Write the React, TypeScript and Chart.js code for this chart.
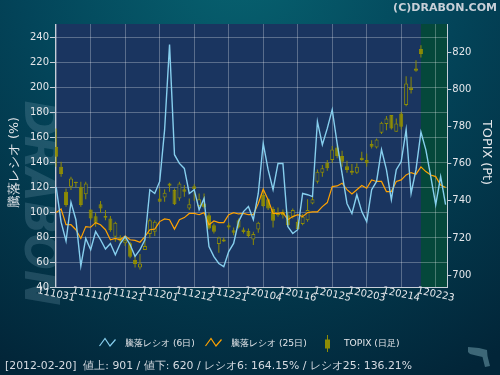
import React, { useEffect, useRef } from "react";
import { Chart, registerables } from "chart.js";
Chart.register(...registerables);

// ---- data ----
const xTickLabels = ["111031", "111110", "111121", "111201", "111212", "111221", "120104", "120116", "120125", "120203", "120214", "120223"];
const xTickStep = 7;
const leftTicks = [40, 60, 80, 100, 120, 140, 160, 180, 200, 220, 240];
const rightTicks = [700, 720, 740, 760, 780, 800, 820];
const cursorIndex = 74;

const ratio6 = [
  120, 92, 77, 108, 94, 57, 79, 70, 84.5, 78,
  70.6, 75, 66, 75, 80.5, 74, 64.7, 70, 78, 118,
  115, 124.6, 166, 234, 146, 139, 135, 115, 118, 102,
  111, 72.5, 64.5, 59, 56.5, 68.5, 75, 92.5, 100.5, 104.5,
  94, 115, 155, 134, 118, 139, 139, 88.5, 83, 86,
  115, 114, 112.5, 172.5, 154, 167, 182, 155, 131, 107,
  99, 114, 100.5, 92.5, 118, 124.6, 150, 134, 110, 134,
  140.5, 166, 115, 134, 164.15, 149.8, 128.5, 106, 128.5, 106,
];
const ratio25 = [
  99.7, 102.6, 90, 90, 86, 79, 88.5, 88, 91.7, 90,
  86, 78, 79, 78, 81, 78, 77.5, 76, 80.5, 86,
  86.5, 92.5, 94.6, 94, 86.5, 94, 95.7, 99, 99, 98,
  99.7, 90, 93, 91.7, 91.7, 98, 99.7, 98.6, 99, 98,
  98, 107, 118.4, 110, 99, 99, 99.7, 94, 96.5, 98,
  96.5, 99.7, 100.3, 100.3, 104.5, 107.7, 120.5, 121, 123.2, 118,
  114.6, 118, 121.3, 119.2, 125.8, 124.6, 124.6, 116.5, 116.5, 124.6,
  125.8, 129.8, 131.7, 130.4, 136.21, 132.5, 129.8, 128.5, 121.8, 119.7,
];
const topixOpen = [
  769.1, 758.4, 744.9, 747.6, 750.3, 747.6, 743.6, 735.4, 731.7, 738.2,
  731.8, 730.5, 720.6, 720.3, 717.1, 717.1, 708.1, 704.1, 713.5, 722.1,
  723.3, 741.3, 741.8, 749.4, 745.8, 741.3, 746.2, 735.9, 747.9, 737.2,
  738.6, 732.3, 726.9, 716.7, 719.2, 726.9, 724.2, 729.6, 724.6, 723.7,
  719.2, 724.6, 743.1, 740.8, 735.6, 733.2, 734.1, 732.3, 731.4, 728.7,
  727.5, 729.6, 738.6, 750.3, 755.1, 760.5, 762, 768.8, 764.1, 758.7,
  756.2, 755.1, 763.2, 762, 770.6, 768.8, 776.7, 781.4, 786.2, 777.2,
  787.1, 791.6, 801.1, 811.3, 821.8,
];
const topixHigh = [
  779, 761.1, 746.6, 753, 750.3, 750.3, 750.3, 735.4, 733.6, 739.9,
  735, 731.8, 728.7, 721.5, 720.6, 717.9, 710.8, 711.3, 719.8, 730.5,
  729.6, 746.7, 746.2, 749.7, 746.7, 750.3, 748.5, 741.3, 749, 744,
  744, 733.6, 727.8, 720.6, 720.3, 728.2, 725.7, 730.5, 725.7, 725.1,
  723.3, 728.7, 745.8, 741.3, 736.8, 736.4, 735.4, 734.1, 735.9, 730,
  732.9, 740.8, 743.6, 756.9, 759.3, 762, 769.5, 770, 767, 761.6,
  759.8, 760.2, 766.4, 765.5, 772.7, 773.6, 782.6, 785.7, 786.2, 784.4,
  788, 807.2, 806.9, 815.8, 823.9,
];
const topixLow = [
  758.4, 753, 736.8, 745.8, 747, 736.8, 740.8, 729.6, 726, 733.6,
  729.6, 723.3, 718, 717.4, 715.6, 709, 704.1, 703, 713.5, 719.8,
  721, 739.5, 739.5, 744.9, 737.7, 740, 742.2, 735, 740, 736.5,
  735.9, 724.6, 722.4, 712, 717.8, 724.6, 721.5, 725.1, 722.4, 720.3,
  716.2, 722.8, 736.5, 735, 725.7, 731.4, 730.5, 726, 730.5, 724.6,
  726.9, 728.7, 738.2, 749.4, 753, 756.2, 760.5, 762.9, 758.4, 755.1,
  753.9, 754.4, 761.6, 758.4, 768.2, 768.2, 776, 778.1, 778.5, 777.2,
  778.5, 791, 797.9, 809.6, 817.3,
];
const topixClose = [
  763.8, 754.4, 737.7, 752.1, 749.6, 737.7, 749.4, 730.5, 728.2, 735.9,
  730.9, 724.2, 728.2, 718.5, 718.8, 709.9, 705.9, 706.3, 715.6, 729.6,
  728.7, 739.5, 744.4, 748.1, 738.1, 749.4, 744.9, 738.2, 746.2, 740.8,
  736.5, 725.1, 723.3, 720.3, 718.1, 725.7, 722.8, 725.7, 723.2, 721,
  722.1, 728.2, 737.2, 735.9, 729.3, 732.3, 732.3, 726.9, 735, 724.8,
  731.4, 735, 740.8, 755.7, 757.5, 757.5, 767.7, 764.1, 761.1, 756.6,
  755.1, 758.4, 762, 760.2, 769.1, 773.1, 782.1, 784.4, 779, 781.7,
  779.9, 803.3, 799.7, 810.1, 819.1,
];

const legendLabels = ["騰落レシオ (6日)", "騰落レシオ (25日)", "TOPIX (日足)"];
const infoText = "[2012-02-20]  値上: 901 / 値下: 620 / レシオ6: 164.15% / レシオ25: 136.21%";
const leftTitle = "騰落レシオ (%)";
const rightTitle = "TOPIX (Pt)";
const copyright = "(C)DRABON.COM";
const watermark = "DRABON";

// ---- styles ----
const FONT = '"DejaVu Sans", sans-serif';
const PLOT_BG = "#1a3560";
const GREEN_BG = "#05483b";
const BLUE = "#87cfee";
const ORANGE = "#ffa200";
const OLIVE = "#8e8c05";
const TEXT = "#e4e6ea";
const GRID = "rgba(255,255,255,0.28)";
const AXIS = "#c6ced8";

function setFitFont(ctx: CanvasRenderingContext2D, text: string, style: string, target: number) {
  ctx.font = `${style} 20px ${FONT}`;
  const w = ctx.measureText(text).width;
  const s = (20 * target) / w;
  ctx.font = `${style} ${s}px ${FONT}`;
}

const decor = {
  id: "decor",
  beforeDraw(chart: any) {
    const { ctx, chartArea: a, scales } = chart;
    ctx.save();
    const g = ctx.createRadialGradient(240, -40, 10, 240, -40, 470);
    g.addColorStop(0, "#07616f");
    g.addColorStop(0.45, "#03455a");
    g.addColorStop(1, "#022538");
    ctx.fillStyle = g;
    ctx.fillRect(0, 0, 500, 375);

    // watermark
    ctx.save();
    ctx.translate(37, 203);
    ctx.rotate(Math.PI / 2);
    ctx.textAlign = "center";
    ctx.textBaseline = "middle";
    setFitFont(ctx, watermark, "italic bold", 205);
    ctx.font = `italic bold 48px ${FONT}`;
    ctx.fillStyle = "rgba(120,160,180,0.25)";
    ctx.fillText(watermark, 0, 0, 205);
    ctx.restore();

    ctx.fillStyle = PLOT_BG;
    ctx.fillRect(a.left, a.top, a.right - a.left, a.bottom - a.top);
    const gx = scales.x.getPixelForValue(cursorIndex);
    ctx.fillStyle = GREEN_BG;
    ctx.fillRect(gx, a.top, a.right - gx, a.bottom - a.top);
    ctx.restore();
  },
  afterDraw(chart: any) {
    const { ctx, scales } = chart;
    ctx.save();
    // x tick labels (rotated clockwise)
    ctx.fillStyle = TEXT;
    ctx.font = `10px ${FONT}`;
    ctx.textAlign = "center";
    ctx.textBaseline = "middle";
    xTickLabels.forEach((lab, k) => {
      const x = scales.x.getPixelForValue(k * xTickStep);
      ctx.save();
      ctx.translate(x, 294.5);
      ctx.rotate((12 * Math.PI) / 180);
      ctx.fillText(lab, 0, 0);
      ctx.restore();
    });

    // axis titles
    ctx.save();
    ctx.translate(15, 162.5);
    ctx.rotate(-Math.PI / 2);
    setFitFont(ctx, leftTitle, "", 89);
    ctx.fillText(leftTitle, 0, 0);
    ctx.restore();

    ctx.save();
    ctx.translate(486, 152.5);
    ctx.rotate(Math.PI / 2);
    setFitFont(ctx, rightTitle, "", 65);
    ctx.fillText(rightTitle, 0, 0);
    ctx.restore();

    // copyright
    ctx.fillStyle = "#c8d0d8";
    ctx.textAlign = "right";
    setFitFont(ctx, copyright, "bold", 104);
    ctx.fillText(copyright, 497, 8);

    // legend
    ctx.lineWidth = 1.2;
    const zig = (x0: number, color: string) => {
      ctx.strokeStyle = color;
      ctx.beginPath();
      ctx.moveTo(x0, 346);
      ctx.lineTo(x0 + 5.5, 338.5);
      ctx.lineTo(x0 + 10.5, 346);
      ctx.lineTo(x0 + 16, 339.5);
      ctx.stroke();
    };
    zig(99.5, BLUE);
    zig(205.5, ORANGE);
    ctx.strokeStyle = OLIVE;
    ctx.lineWidth = 1;
    ctx.beginPath();
    ctx.moveTo(327.5, 335);
    ctx.lineTo(327.5, 352);
    ctx.stroke();
    ctx.fillStyle = OLIVE;
    ctx.fillRect(325, 339.5, 5, 9);

    ctx.fillStyle = TEXT;
    ctx.textAlign = "left";
    ctx.textBaseline = "middle";
    const legX = [125, 231, 344];
    const legW = [70, 77, 56];
    legendLabels.forEach((t, i) => {
      setFitFont(ctx, t, "", legW[i]);
      ctx.fillText(t, legX[i], 343.5);
    });

    // info text
    ctx.fillStyle = "#d6dbe2";
    setFitFont(ctx, infoText, "", 406);
    ctx.fillText(infoText, 5, 366);

    // small icon bottom right
    ctx.fillStyle = "#3d6777";
    ctx.beginPath();
    ctx.moveTo(468, 347);
    ctx.lineTo(479, 348);
    ctx.lineTo(487, 350);
    ctx.lineTo(487.5, 356);
    ctx.lineTo(490, 366);
    ctx.lineTo(485, 367);
    ctx.lineTo(482.5, 357);
    ctx.lineTo(476, 355.5);
    ctx.lineTo(470, 354);
    ctx.lineTo(468, 352);
    ctx.closePath();
    ctx.fill();
    ctx.restore();
  },
};

export default function App() {
  const ref = useRef<HTMLCanvasElement>(null);
  useEffect(() => {
    const idx = topixOpen.map((_, i) => i);
    const chart = new Chart(ref.current as HTMLCanvasElement, {
      type: "line",
      data: {
        datasets: [
          {
            type: "line",
            label: legendLabels[0],
            data: ratio6.map((v, i) => ({ x: i, y: v })),
            borderColor: BLUE,
            borderWidth: 1.4,
            pointRadius: 0,
            tension: 0,
            yAxisID: "y",
            order: 0,
          },
          {
            type: "line",
            label: legendLabels[1],
            data: ratio25.map((v, i) => ({ x: i, y: v })),
            borderColor: ORANGE,
            borderWidth: 1.2,
            pointRadius: 0,
            tension: 0,
            yAxisID: "y",
            order: 1,
          },
          {
            type: "bar",
            label: legendLabels[2],
            data: idx.map((i) => ({ x: i, y: [Math.min(topixOpen[i], topixClose[i]), Math.max(topixOpen[i], topixClose[i])] })),
            backgroundColor: idx.map((i) => (topixClose[i] > topixOpen[i] ? PLOT_BG : OLIVE)),
            borderColor: OLIVE,
            borderWidth: 1,
            borderSkipped: false,
            barThickness: 4,
            grouped: false,
            inflateAmount: 0,
            yAxisID: "y1",
            order: 2,
          } as any,
          {
            type: "bar",
            label: "wick",
            data: idx.map((i) => ({ x: i, y: [topixLow[i], topixHigh[i]] })),
            backgroundColor: OLIVE,
            borderWidth: 0,
            barThickness: 1,
            grouped: false,
            inflateAmount: 0,
            yAxisID: "y1",
            order: 3,
          } as any,
        ],
      },
      options: {
        responsive: false,
        animation: false,
        devicePixelRatio: 1,
        events: [],
        layout: { padding: { top: 24, left: 0, right: 0, bottom: 0 } },
        plugins: { legend: { display: false }, tooltip: { enabled: false } },
        scales: {
          x: {
            type: "linear",
            min: -0.24,
            max: 79.35,
            offset: false,
            afterBuildTicks: (s: any) => {
              s.ticks = xTickLabels.map((_, k) => ({ value: k * xTickStep }));
            },
            afterFit: (s: any) => {
              s.height = 87.5;
            },
            ticks: { display: false },
            grid: { color: GRID, offset: false, drawTicks: false },
            border: { color: AXIS, width: 1 },
          },
          y: {
            type: "linear",
            position: "left",
            min: 39.8,
            max: 250.5,
            afterBuildTicks: (s: any) => {
              s.ticks = leftTicks.map((v) => ({ value: v }));
            },
            afterFit: (s: any) => {
              s.width = 55;
            },
            ticks: { color: TEXT, font: { family: FONT, size: 10 }, padding: 1 },
            grid: { color: GRID, tickColor: AXIS, tickLength: 5 },
            border: { color: AXIS, width: 1 },
          },
          y1: {
            type: "linear",
            position: "right",
            min: 693.3,
            max: 835.3,
            afterBuildTicks: (s: any) => {
              s.ticks = rightTicks.map((v) => ({ value: v }));
            },
            afterFit: (s: any) => {
              s.width = 52.7;
            },
            ticks: { color: TEXT, font: { family: FONT, size: 10 }, padding: 1 },
            grid: { drawOnChartArea: false, tickColor: AXIS, tickLength: 4 },
            border: { color: AXIS, width: 1 },
          },
        },
      } as any,
      plugins: [decor],
    });
    return () => chart.destroy();
  }, []);
  return (
    <div style={{ position: "fixed", left: 0, top: 0, width: 500, height: 375 }}>
      <canvas ref={ref} width={500} height={375} style={{ display: "block", width: 500, height: 375 }} />
    </div>
  );
}
